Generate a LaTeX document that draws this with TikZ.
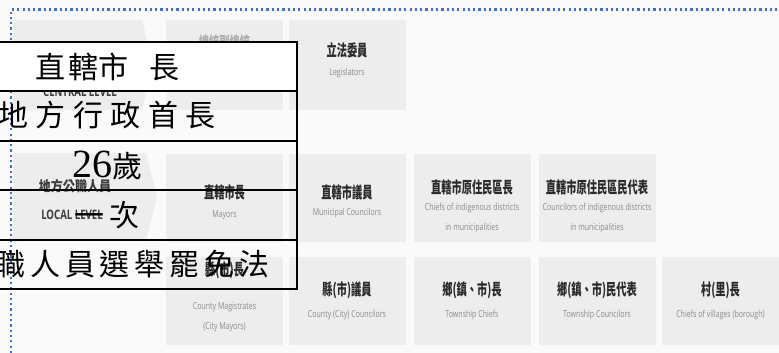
\documentclass[tikz,border=0pt]{standalone}
\usepackage{fontspec}
\setmainfont{Liberation Serif}
\newfontfamily\cjk{Noto Sans CJK TC}
\newfontfamily\cjkcond[FakeStretch=0.64]{Noto Sans CJK TC}
\newfontfamily\cjkwide[FakeStretch=0.86]{Noto Sans CJK TC}
\newfontfamily\engcond[FakeStretch=0.74]{Open Sans}
\definecolor{pagebg}{HTML}{FAFAFA}
\definecolor{boxgray}{HTML}{EDEDED}
\definecolor{namegray}{HTML}{2A2A2A}
\definecolor{subgray}{HTML}{8A8A8A}
\definecolor{lvlgray}{HTML}{3C3C3C}
\definecolor{frameblue}{HTML}{3F6ECB}
\tikzset{
  postbox/.style={rectangle,fill=boxgray,minimum width=117pt,minimum height=88pt,inner sep=0pt},
  postname/.style={inner sep=0pt,text=namegray,font=\cjkcond\bfseries\fontsize{16}{16}\selectfont},
  postsub/.style={inner sep=0pt,text=subgray,align=center,font=\engcond\fontsize{9.5}{11}\selectfont},
  lvltext/.style={inner sep=0pt,text=lvlgray},
  lawrow/.style={draw,line width=2pt,minimum width=380pt,minimum height=49.4pt,inner sep=0pt,
    font=\cjk\fontsize{30}{30}\selectfont},
}
\begin{document}
\begin{tikzpicture}[x=1pt,y=-1pt]
        \useasboundingbox (0,0) rectangle (779,353);
        \fill[pagebg] (0,0) rectangle (779,353);
        % level arrows
        \fill[boxgray] (13,20) -- (142,20) -- (153,65) -- (142,110) -- (13,110) -- cycle;
        \fill[boxgray] (13,153) -- (146,153) -- (157,197) -- (146,241) -- (13,241) -- cycle;
        \node[lvltext,font=\engcond\bfseries\fontsize{13}{13}\selectfont] (central) at (80,92) {CENTRAL LEVEL};
        \node[lvltext,font=\cjkwide\bfseries\fontsize{14}{14}\selectfont] (localzh) at (75,186) {地方公職人員};
        \node[lvltext,font=\engcond\bfseries\fontsize{13}{13}\selectfont] (local) at (72,215) {LOCAL LEVEL};
        % central level
        \node[postbox,minimum height=90pt] (pres) at (224.5,65) {};
        \node[postbox,minimum height=90pt] (leg) at (347,65) {};
        \node[postname,text=subgray!70] (presN) at (224.5,42) {總統副總統};
        \node[postname] (legN) at (347,50) {立法委員};
        \node[postsub] (legS) at (347,73) {Legislators};
        % municipalities
        \node[postbox] (mayor) at (224.5,198) {};
        \node[postbox] (mcoun) at (347,198) {};
        \node[postbox] (ichief) at (472,198) {};
        \node[postbox] (icoun) at (597,198) {};
        \node[postname] (mayorN) at (224.5,192) {直轄市長};
        \node[postsub] (mayorS) at (224.5,215) {Mayors};
        \node[postname] (mcounN) at (347,192) {直轄市議員};
        \node[postsub] (mcounS) at (347,213) {Municipal Councilors};
        \node[postname] (ichiefN) at (472,187) {直轄市原住民區長};
        \node[postsub] (ichiefS) at (472,218) {Chiefs of indigenous districts\\[9pt]in municipalities};
        \node[postname] (icounN) at (597,187) {直轄市原住民區民代表};
        \node[postsub] (icounS) at (597,218) {Councilors of indigenous districts\\[9pt]in municipalities};
        % counties and townships
        \node[postbox] (cmag) at (224.5,301) {};
        \node[postbox] (ccoun) at (347,301) {};
        \node[postbox] (tchief) at (472,301) {};
        \node[postbox] (tcoun) at (597,301) {};
        \node[postbox] (vchief) at (720.5,301) {};
        \node[postname] (cmagN) at (224.5,270) {縣(市)長};
        \node[postsub] (cmagS) at (224.5,317.5) {County Magistrates\\[9pt](City Mayors)};
        \node[postname] (ccounN) at (347,290) {縣(市)議員};
        \node[postsub] (ccounS) at (347,315) {County (City) Councilors};
        \node[postname] (tchiefN) at (472,290) {鄉(鎮、市)長};
        \node[postsub] (tchiefS) at (472,315) {Township Chiefs};
        \node[postname] (tcounN) at (597,290) {鄉(鎮、市)民代表};
        \node[postsub] (tcounS) at (597,315) {Township Councilors};
        \node[postname] (vchiefN) at (720.5,290) {村(里)長};
        \node[postsub] (vchiefS) at (720.5,315) {Chiefs of villages (borough)};
        % dotted frame
        \draw[frameblue,line width=2.2pt,dash pattern=on 2.2pt off 3.1pt] (11,353) -- (11,9.5) -- (779,9.5);
        % table on top
        \node[lawrow,fill=white] (rowA) at (107,66.7) {直\kern3pt轄\kern0pt市\kern21pt長};
        \node[lawrow] (rowB) at (107,116.1) {\raisebox{5pt}{\addfontfeatures{LetterSpace=25}地方行政首長}};
        \node[lawrow] (rowC) at (107,165.5) {{\rmfamily\fontsize{40}{40}\selectfont 26}歲};
        \node[lawrow] (rowD) at (107,214.9) {{\addfontfeatures{LetterSpace=17}一次}};
        \node[lawrow] (rowE) at (107,264.3) {\hspace{16pt}{\addfontfeatures{LetterSpace=16}公職人員選舉罷免法}};
\end{tikzpicture}
\end{document}
